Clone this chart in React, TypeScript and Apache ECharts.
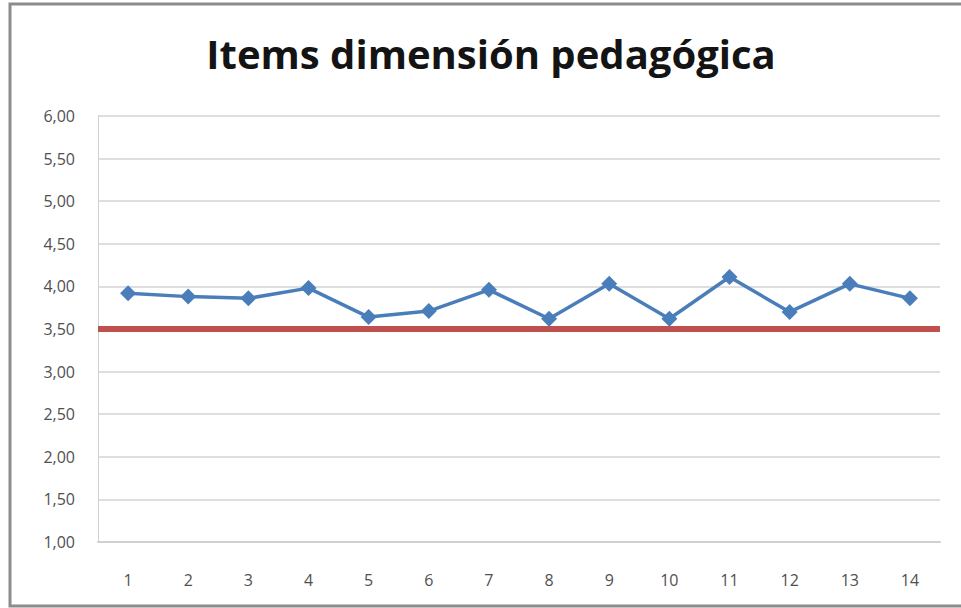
import React, { useEffect, useRef } from "react";
import * as echarts from "echarts";

const categories = ["1", "2", "3", "4", "5", "6", "7", "8", "9", "10", "11", "12", "13", "14"];
const itemValues = [3.92, 3.88, 3.86, 3.98, 3.64, 3.71, 3.96, 3.62, 4.03, 3.62, 4.11, 3.70, 4.03, 3.86];
const thresholdValue = 3.5;
const titleText = "Items dimensión pedagógica";

export default function App() {
  const ref = useRef<HTMLDivElement>(null);
  useEffect(() => {
    document.body.style.margin = "0";
    const chart = echarts.init(ref.current!, null, { renderer: "svg" });
    chart.setOption({
      animation: false,
      backgroundColor: "#ffffff",
      title: {
        text: titleText,
        left: 486,
        textAlign: "center",
        top: 28,
        textStyle: { fontFamily: "Open Sans", fontWeight: "bold", fontSize: 40, color: "#141414" },
      },
      graphic: [
        {
          type: "rect",
          shape: { x: 10, y: 4, width: 970, height: 602 },
          style: { fill: "none", stroke: "#8c8c8c", lineWidth: 3 },
          silent: true,
        },
      ],
      grid: { left: 98, right: 21, top: 116, bottom: 66 },
      xAxis: {
        type: "category",
        data: categories,
        boundaryGap: true,
        axisLine: { show: true, lineStyle: { color: "#d0d0d0", width: 2 } },
        axisTick: { show: false },
        axisLabel: { margin: 30, fontFamily: "Open Sans", fontSize: 16, color: "#505050" },
        splitLine: { show: false },
      },
      yAxis: {
        type: "value",
        min: 1,
        max: 6,
        interval: 0.5,
        axisLine: { show: true, lineStyle: { color: "#d0d0d0", width: 1 } },
        axisTick: { show: false },
        axisLabel: {
          margin: 23,
          fontFamily: "Open Sans",
          fontSize: 16,
          color: "#505050",
          formatter: (v: number) => v.toFixed(2).replace(".", ","),
        },
        splitLine: { show: true, lineStyle: { color: "#dedede", width: 2 } },
      },
      series: [
        {
          type: "line",
          data: itemValues,
          symbol: "diamond",
          symbolSize: 16,
          lineStyle: { color: "#4a7ebb", width: 3.5 },
          itemStyle: { color: "#4a7ebb" },
          z: 3,
          markLine: {
            silent: true,
            symbol: "none",
            label: { show: false },
            lineStyle: { color: "#c0504d", width: 6, type: "solid" },
            data: [{ yAxis: thresholdValue }],
            z: 2,
          },
        },
      ],
    });
    return () => chart.dispose();
  }, []);
  return <div ref={ref} style={{ width: 961, height: 608 }} />;
}
